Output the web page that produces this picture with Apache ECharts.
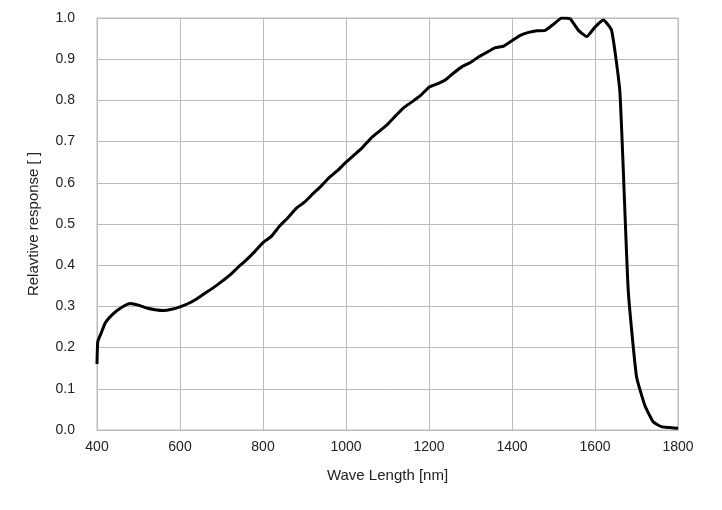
<!DOCTYPE html>
<html><head><meta charset="utf-8">
<script src="https://cdn.jsdelivr.net/npm/echarts@6/dist/echarts.min.js"></script>
<style>html,body{margin:0;padding:0;background:#fff}#c{width:722px;height:510px}</style>
</head><body><div id="c"></div>
<script>
const wavelengths = [400,402,410,420,440,460,480,500,520,540,560,580,600,620,640,660,680,700,720,740,760,780,800,820,840,860,880,900,920,940,960,980,1000,1020,1040,1060,1080,1100,1120,1140,1160,1180,1200,1220,1240,1260,1280,1300,1320,1340,1360,1380,1400,1420,1440,1460,1480,1500,1520,1540,1560,1580,1600,1620,1640,1660,1680,1700,1720,1740,1760,1780,1800];
const response = [0.16,0.215,0.235,0.26,0.283,0.298,0.307,0.303,0.296,0.292,0.290,0.293,0.299,0.307,0.318,0.332,0.345,0.36,0.376,0.395,0.413,0.433,0.455,0.47,0.495,0.515,0.538,0.553,0.573,0.592,0.613,0.630,0.650,0.668,0.686,0.708,0.725,0.742,0.763,0.783,0.797,0.812,0.832,0.840,0.850,0.867,0.882,0.892,0.906,0.917,0.928,0.932,0.945,0.958,0.965,0.969,0.970,0.985,1.0,0.998,0.97,0.955,0.978,0.995,0.97,0.82,0.34,0.13,0.06,0.02,0.008,0.006,0.004];
const chart = echarts.init(document.getElementById('c'));
const font = {fontFamily:'Liberation Sans, Arial, sans-serif', fontSize:14, color:'#222'};
chart.setOption({
  animation:false,
  grid:{left:97,right:44,top:18,bottom:80,show:true,borderColor:'#bbb',borderWidth:1},
  xAxis:{type:'value',min:400,max:1800,interval:200,name:'Wave Length [nm]',nameLocation:'middle',nameGap:38,
    nameTextStyle:{...font,fontSize:15},axisLabel:{...font,margin:10,formatter:v=>String(v)},
    axisLine:{lineStyle:{color:'#bbb'}},axisTick:{show:false},splitLine:{lineStyle:{color:'#bbb'}}},
  yAxis:{type:'value',min:0,max:1,interval:0.1,name:'Relavtive response [ ]',nameLocation:'middle',nameGap:56,
    nameTextStyle:{...font,fontSize:15},axisLabel:{...font,margin:22,formatter:v=>v.toFixed(1)},
    axisLine:{show:true,lineStyle:{color:'#bbb'}},axisTick:{show:false},splitLine:{lineStyle:{color:'#bbb'}}},
  series:[{type:'line',data:wavelengths.map((w,i)=>[w,response[i]]),showSymbol:false,
    lineStyle:{color:'#000',width:3},smooth:0.15}]
});
</script></body></html>
